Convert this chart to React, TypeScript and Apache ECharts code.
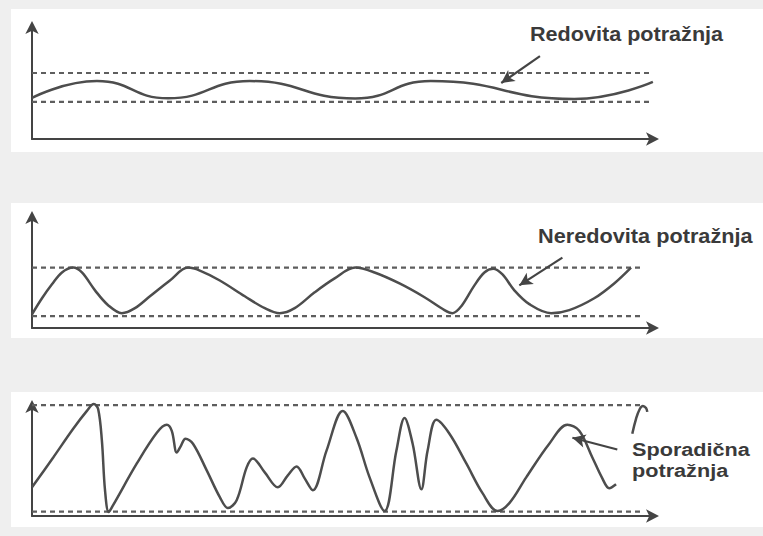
import React, { useEffect, useRef } from "react";
import * as echarts from "echarts";

// Panel 1 – Redovita potražnja (regular demand)
const X1 = [0, 10.4, 21.8, 34.9, 51.8, 63.9, 86.9, 99.5];
const Y1 = [35.7, 50.4, 35.4, 50.4, 35.2, 50.4, 34.8, 49.6];
const BAND1 = [32.2, 57.4];
const ARROW1 = [[81.4, 72], [75.2, 48.7]];

// Panel 2 – Neredovita potražnja (irregular demand)
const X2 = [0, 1.6, 3.2, 4.8, 6.6, 8, 10.1, 12.2, 14.4, 16.5, 18.9, 22.1, 25, 26.9, 30.1, 34.1, 37.3, 39.7, 42.1, 45.3, 48.5, 51.8, 54.9, 58.9, 62.9, 66.1, 67.4, 68.8, 70.9, 72.5, 73.9, 75.4, 77.3, 79.7, 83.2, 86.1, 90.1, 93.3, 96];
const Y2 = [12, 26.1, 38.3, 48.7, 53, 48.7, 33, 20, 13, 17.4, 27.8, 41.7, 53, 50.4, 41.7, 27.8, 17.4, 13, 17.4, 31.3, 43.5, 53, 48.7, 39.1, 27, 15.7, 13, 19.1, 37.4, 48.7, 52, 47, 33, 20.9, 13, 15.7, 26.1, 39.1, 53];
const BAND2 = [10.4, 53];
const ARROW2 = [[85, 61.7], [78.1, 37.4]];

// Panel 3 – Sporadična potražnja (sporadic demand)
const X3 = [0, 3.4, 6.6, 8.8, 9.9, 10.6, 11.2, 11.7, 12.3, 13, 16.8, 20, 21.6, 22.4, 23.2, 23.8, 24.6, 25.8, 28, 30.1, 31.4, 32.8, 34.4, 35.4, 37.3, 39.4, 41, 42.4, 43.7, 45, 47.2, 49.8, 52, 54.1, 56.5, 58.4, 59.7, 61, 62.4, 63.4, 64.8, 66.9, 69.6, 72.2, 74.6, 76.5, 79.2, 82.9, 85.8, 87.7, 89.8, 91.4, 92.5, 93.6];
const Y3 = [25.4, 51.8, 77.2, 93, 99.1, 94.7, 66.7, 22.8, 3.5, 9.6, 46.5, 73.7, 80.7, 75.4, 56.1, 61.4, 68.4, 64, 40.4, 16.7, 7, 14, 43, 50.9, 38.6, 25.4, 36, 43.9, 33.3, 22.8, 57.9, 93, 69.3, 34.2, 4.4, 57.9, 86.8, 64, 23.7, 57.9, 85.1, 72.8, 46.5, 20.2, 4.4, 11.4, 34.2, 64, 80.7, 75.4, 51.8, 33.3, 24.6, 28.1];
const XH3 = [96.2, 96.8, 97.4, 97.9, 98.4, 98.6];
const YH3 = [72.8, 86, 94.7, 97.4, 95.6, 92.1];
const BAND3 = [3.9, 98.2];
const ARROW3 = [[93.8, 58.8], [86.6, 69.3]];

const BAND_END = [99.5, 97.8, 97.6];
const LABELS = ["Redovita potražnja", "Neredovita potražnja", "Sporadična", "potražnja"];

const zip = (xs: number[], ys: number[]) => xs.map((x, i) => [x, ys[i]]);

export default function App() {
  const ref = useRef<HTMLDivElement>(null);
  useEffect(() => {
    if (!ref.current) return;
    const chart = echarts.init(ref.current, undefined, { renderer: "svg" });
    const grids = [
      { left: 32, top: 24, width: 624, height: 115 },
      { left: 32, top: 214, width: 624, height: 114 },
      { left: 32, top: 403, width: 624, height: 113 },
    ];
    const axisLine = {
      show: true,
      symbol: ["none", "arrow"],
      symbolSize: [10, 13],
      symbolOffset: [0, 3],
      lineStyle: { color: "#444", width: 2 },
    };
    const xAxis = grids.map((_, i) => ({
      type: "value",
      gridIndex: i,
      min: 0,
      max: 100,
      axisLine,
      axisTick: { show: false },
      axisLabel: { show: false },
      splitLine: { show: false },
    }));
    const yAxis = grids.map((_, i) => ({
      type: "value",
      gridIndex: i,
      min: 0,
      max: 100,
      axisLine,
      axisTick: { show: false },
      axisLabel: { show: false },
      splitLine: { show: false },
    }));
    const curves = [zip(X1, Y1), zip(X2, Y2), zip(X3, Y3)];
    const smooths = [0.5, 0.35, 0.35];
    const bands = [BAND1, BAND2, BAND3];
    const arrows = [ARROW1, ARROW2, ARROW3];
    const series: any[] = [];
    bands.forEach((b, i) => {
      b.forEach((v) => {
        series.push({
          type: "line",
          xAxisIndex: i,
          yAxisIndex: i,
          data: [[0, v], [BAND_END[i], v]],
          symbol: "none",
          silent: true,
          lineStyle: { color: "#5e5e5e", width: 2.2, type: [5, 4] },
          z: 3,
        });
      });
    });
    curves.forEach((c, i) => {
      series.push({
        type: "line",
        xAxisIndex: i,
        yAxisIndex: i,
        data: c,
        symbol: "none",
        smooth: smooths[i],
        silent: true,
        lineStyle: { color: "#4d4d4d", width: 2.5 },
        z: 4,
        markLine: {
          silent: true,
          symbol: ["none", "arrow"],
          symbolSize: [10, 13],
          label: { show: false },
          lineStyle: { color: "#444", width: 2.2, type: "solid" },
          data: [[{ coord: arrows[i][0] }, { coord: arrows[i][1] }]],
        },
      });
    });
    series.push({
      type: "line",
      xAxisIndex: 2,
      yAxisIndex: 2,
      data: zip(XH3, YH3),
      symbol: "none",
      smooth: 0.4,
      silent: true,
      lineStyle: { color: "#4d4d4d", width: 2.5 },
      z: 4,
    });
    const textStyle = (t: string, size: number) => ({
      text: t,
      font: `bold ${size}px "Liberation Sans", Arial, sans-serif`,
      fill: "#3a3a3a",
      verticalAlign: "middle",
      align: "left",
    });
    chart.setOption({
      animation: false,
      backgroundColor: "#efefef",
      grid: grids,
      xAxis,
      yAxis,
      series,
      graphic: [
        { type: "rect", z: -10, silent: true, shape: { x: 11, y: 9, width: 752, height: 143 }, style: { fill: "#ffffff" } },
        { type: "rect", z: -10, silent: true, shape: { x: 11, y: 203, width: 752, height: 135 }, style: { fill: "#ffffff" } },
        { type: "rect", z: -10, silent: true, shape: { x: 11, y: 392, width: 752, height: 135 }, style: { fill: "#ffffff" } },
        { type: "text", x: 530, y: 34, scaleX: 1.08, style: textStyle(LABELS[0], 20) },
        { type: "text", x: 538, y: 236, scaleX: 1.086, style: textStyle(LABELS[1], 20) },
        { type: "text", x: 632, y: 449, scaleX: 1.14, style: textStyle(LABELS[2], 19) },
        { type: "text", x: 632, y: 470, scaleX: 1.14, style: textStyle(LABELS[3], 19) },
      ],
    });
    return () => chart.dispose();
  }, []);
  return <div ref={ref} style={{ position: "absolute", left: 0, top: 0, width: 763, height: 536 }} />;
}
